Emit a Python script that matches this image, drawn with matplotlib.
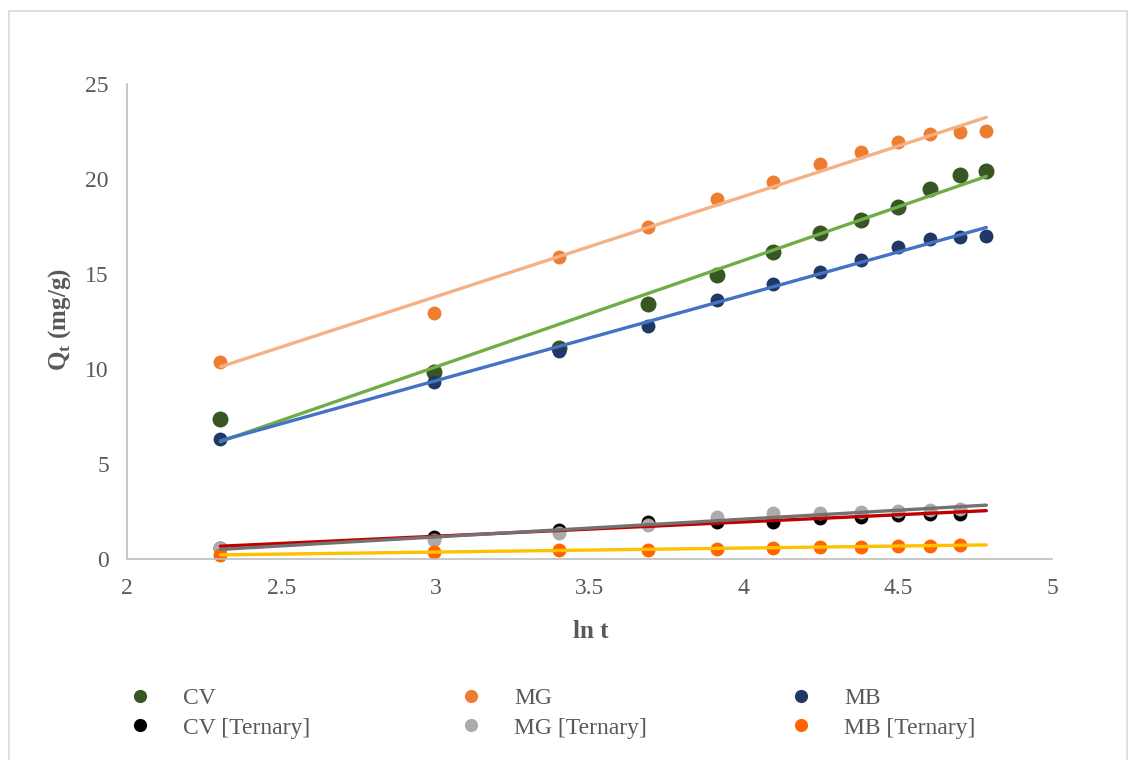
import numpy as np
import matplotlib
matplotlib.use("Agg")
import matplotlib.pyplot as plt
from matplotlib.lines import Line2D
from matplotlib.patches import Rectangle

plt.rcParams['font.family'] = ['Liberation Serif', 'DejaVu Serif']
plt.rcParams['mathtext.fontset'] = 'custom'
plt.rcParams['mathtext.rm'] = 'Liberation Serif'
plt.rcParams['mathtext.bf'] = 'Liberation Serif:bold'

# ln t for t = 10 ... 120 min
ln_t = [2.303, 2.996, 3.401, 3.689, 3.912, 4.094, 4.248, 4.382, 4.500, 4.605, 4.700, 4.787]
ln_t_ternary = ln_t[:11]

# single dye uptake (mg/g)
cv = [7.37, 9.84, 11.10, 13.42, 14.95, 16.16, 17.16, 17.84, 18.53, 19.47, 20.21, 20.42]
mg = [10.37, 12.95, 15.89, 17.47, 18.95, 19.84, 20.78, 21.44, 21.96, 22.36, 22.46, 22.53]
mb = [6.32, 9.32, 10.95, 12.26, 13.63, 14.47, 15.10, 15.74, 16.42, 16.84, 16.95, 17.00]

# ternary mixture uptake (mg/g)
cv_t = [0.58, 1.16, 1.53, 1.94, 1.96, 1.96, 2.15, 2.22, 2.30, 2.39, 2.39]
mg_t = [0.58, 1.00, 1.37, 1.79, 2.20, 2.41, 2.43, 2.47, 2.52, 2.58, 2.62]
mb_t = [0.21, 0.39, 0.47, 0.47, 0.53, 0.60, 0.65, 0.65, 0.68, 0.70, 0.74]

series = [
    # label, x, y, marker colour, trend colour, marker size
    ("CV", ln_t, cv, "#375623", "#70AD47", 11.5),
    ("MG", ln_t, mg, "#ED7D31", "#F4B183", 10),
    ("MB", ln_t, mb, "#1F3864", "#4472C4", 10),
    ("CV [Ternary]", ln_t_ternary, cv_t, "#000000", "#C00000", 10),
    ("MG [Ternary]", ln_t_ternary, mg_t, "#AEAAAA", "#767171", 10),
    ("MB [Ternary]", ln_t_ternary, mb_t, "#FF6600", "#FFC000", 10),
]

fig = plt.figure(figsize=(11.31, 7.6), dpi=100)
ax = fig.add_axes([127 / 1131, 1 - 559 / 760, (1052 - 127) / 1131, (559 - 84) / 760])

text_col = "#595959"
handles = {}
for label, x, y, mcol, tcol, ms in series:
    h, = ax.plot(x, y, linestyle="none", marker="o", ms=ms, color=mcol,
                 markeredgewidth=0, zorder=2, clip_on=False)
    handles[label] = h
for label, x, y, mcol, tcol, ms in series:
    k, b = np.polyfit(x, y, 1)
    xs = np.array([ln_t[0], ln_t[-1]])
    ax.plot(xs, k * xs + b, color=tcol, lw=2.4, zorder=3, solid_capstyle="round")

ax.set_xlim(2, 5)
ax.set_ylim(0, 25)
ax.set_xticks([2, 2.5, 3, 3.5, 4, 4.5, 5])
ax.set_xticklabels(["2", "2.5", "3", "3.5", "4", "4.5", "5"])
ax.set_yticks([0, 5, 10, 15, 20, 25])
ax.tick_params(axis="x", length=0, pad=14, labelsize=17, labelcolor=text_col)
ax.tick_params(axis="y", length=0, pad=13, labelsize=17, labelcolor=text_col)
for s in ["top", "right"]:
    ax.spines[s].set_visible(False)
for s in ["left", "bottom"]:
    ax.spines[s].set_color("#BFBFBF")
    ax.spines[s].set_linewidth(1.2)

fig.text(591 / 1131, 1 - 632 / 760, "ln t", ha="center", va="center",
         fontsize=18, fontweight="bold", color=text_col)
fig.text(60 / 1131, 1 - 320 / 760, r"Q$_\mathbf{t}$ (mg/g)", ha="center", va="center",
         rotation=90, fontsize=18, fontweight="bold", color=text_col)

# three legend columns, two rows each
columns = [("CV", "CV [Ternary]"), ("MG", "MG [Ternary]"), ("MB", "MB [Ternary]")]
col_x = [140, 471, 801]
for (a, b), cx in zip(columns, col_x):
    hs = [Line2D([], [], linestyle="none", marker="o", ms=9.5,
                 color=handles[n].get_color(), markeredgewidth=0) for n in (a, b)]
    leg = fig.legend(hs, [a, b], loc="center left",
                     bbox_to_anchor=((cx - 12) / 1131, 1 - 713 / 760),
                     frameon=False, fontsize=17, handlelength=1.05,
                     handletextpad=1.3, labelspacing=0.35, borderpad=0,
                     borderaxespad=0, labelcolor=text_col)

fig.add_artist(Rectangle((9 / 1131, -0.1), (1127 - 9) / 1131, (760 - 11) / 760 + 0.1,
                         transform=fig.transFigure, fill=False,
                         edgecolor="#D9D9D9", lw=1.2))

fig.savefig("out.png", dpi=100, facecolor="white")
